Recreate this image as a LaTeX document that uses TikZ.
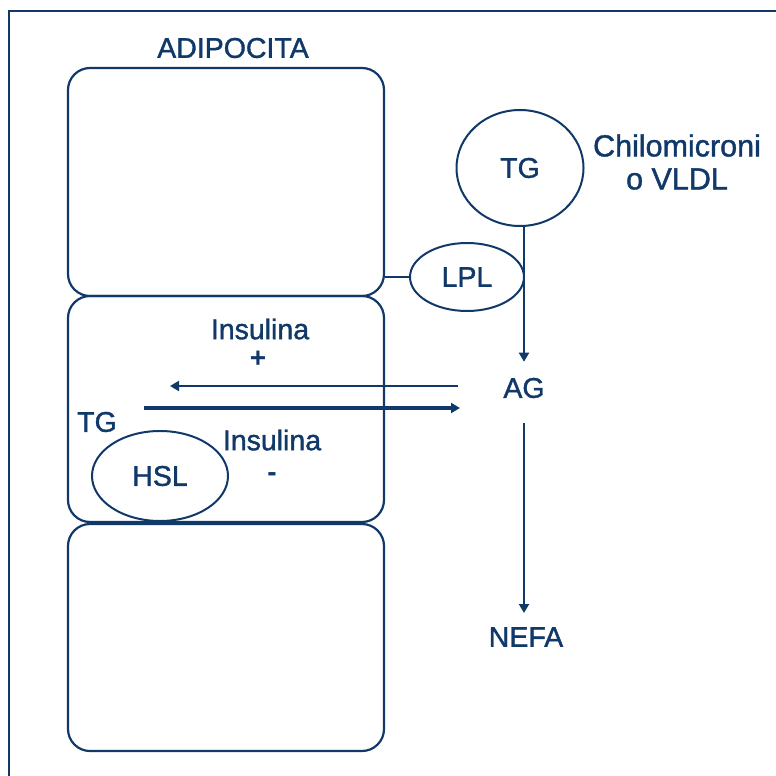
\documentclass[tikz,border=0pt]{standalone}
\usepackage{fontspec}
\setmainfont{Liberation Sans}[BoldFont={Liberation Sans}, BoldFeatures={FakeBold=1.3}]
\newfontfamily\heavyfont{Liberation Sans Bold}
\usepackage{xcolor}
\usetikzlibrary{arrows.meta,shapes.geometric}
\definecolor{navy}{RGB}{16,56,104}

\tikzset{
  cell/.style={draw, rectangle, rounded corners=22pt, line width=2.2pt},
  blob/.style={draw, ellipse, line width=2pt, inner sep=0pt},
  tip/.style={-{Triangle[width=10pt,length=9pt]}, line width=2pt},
  lbl/.style={inner sep=1pt, font=\fontsize{28.5}{31}\selectfont\bfseries},
  sign/.style={inner sep=0pt, font=\fontsize{28}{30}\selectfont\heavyfont}
}

\begin{document}
\begin{tikzpicture}[x=1pt, y=-1pt, draw=navy, text=navy, fill=navy]
\useasboundingbox (0,0) rectangle (776,776);
% cornice
\draw[line width=1.5pt] (776,11) -- (9,11) -- (9,776);

% adipociti
\node[cell, minimum width=316pt, minimum height=228pt] (cellA) at (226,182) {};
\node[cell, minimum width=316pt, minimum height=226pt] (cellB) at (226,409) {};
\node[cell, minimum width=316pt, minimum height=227pt] (cellC) at (226,637.5) {};
\node[lbl] (adipo) at (233,48) {ADIPOCITA};

% lipoproteina
\node[blob, minimum width=127pt, minimum height=116pt, lbl] (chylo) at (520,168) {TG};
\node[lbl, align=center, font=\fontsize{30.5}{33}\selectfont\bfseries] (vldl) at (677,162) {Chilomicroni\\o VLDL};
\node[blob, minimum width=114pt, minimum height=68pt, lbl] (lpl) at (467,277) {LPL};
\draw[line width=2pt] (lpl.west) -- (lpl.west -| cellA.east);

\node[lbl] (ag) at (524,388) {AG};
\node[lbl] (nefa) at (526,637) {NEFA};
\draw[tip, shorten >=15pt] (ag.north |- chylo.south) -- (ag.north);
\draw[tip, shorten <=24pt, shorten >=13pt] (ag.south) -- (ag.south |- nefa.north);

% flussi nella cellula
\coordinate (inR) at (458,386);
\coordinate (inL) at (170,386);
\coordinate (outL) at (144,408);
\coordinate (outR) at (460,408);
\draw[tip] (inR) -- (inL);
\draw[tip, line width=4pt] (outL) -- (outR);

\node[lbl] (insA) at (260,329) {Insulina};
\node[sign] (plus) at (258,359) {+};
\node[lbl] (tgB) at (97,422) {TG};
\node[lbl] (insB) at (272,440) {Insulina};
\node[sign] (minus) at (272,477) {-};
\node[blob, minimum width=136pt, minimum height=90pt, lbl] (hsl) at (160,476) {HSL};
\end{tikzpicture}
\end{document}
